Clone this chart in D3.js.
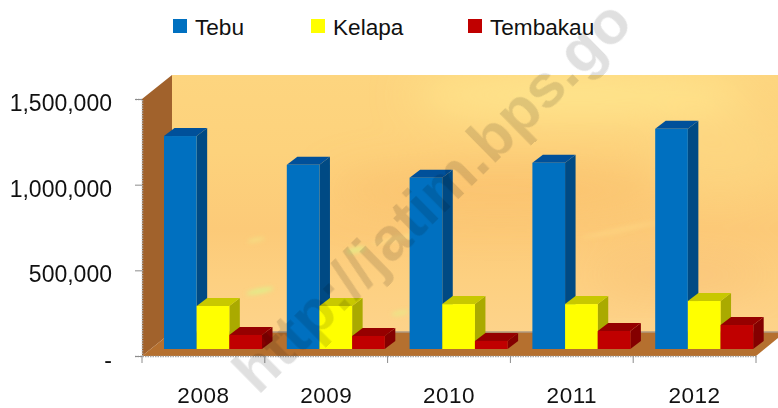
<!DOCTYPE html>
<html>
<head>
<meta charset="utf-8">
<script src="https://d3js.org/d3.v7.min.js"></script>
<style>
  html, body { margin: 0; padding: 0; background: #fff; overflow: hidden; }
  text { font-family: "Liberation Sans", Arial, sans-serif; fill: #111; }
</style>
</head>
<body>
<div id="chart"></div>
<script>
const years = ["2008", "2009", "2010", "2011", "2012"];
const seriesNames = ["Tebu", "Kelapa", "Tembakau"];
const tebu = [1243000, 1075000, 1000000, 1087000, 1285000];
const kelapa = [251000, 251000, 262000, 262000, 280000];
const tembakau = [82000, 76000, 47000, 105000, 140000];
const yTicks = [0, 500000, 1000000, 1500000];

const colors = {
    Tebu: { front: "#0070c0", top: "#00509a", side: "#004a84" },
    Kelapa: { front: "#ffff00", top: "#c8c800", side: "#aaaa00" },
    Tembakau: { front: "#c00000", top: "#960000", side: "#840000" }
};
const valuesBySeries = { Tebu: tebu, Kelapa: kelapa, Tembakau: tembakau };

const width = 778, height = 408;
const margin = { top: 99, left: 142, bottom: 52 };
const plotRight = 756;
const wallDx = 30, wallDy = -24;   // depth of the 3d box
const barDx = 10.5, barDy = -8;    // depth of each bar
const barLift = 7;                 // bars stand a little behind the front edge

const svg = d3.select("#chart").append("svg")
    .attr("width", width)
    .attr("height", height);

const x0 = d3.scaleBand().domain(years).range([margin.left, plotRight]);
const x1 = d3.scaleBand().domain(seriesNames).range([22, 120]);
const y = d3.scaleLinear().domain([0, 1500000]).range([height - margin.bottom, margin.top]);

const defs = svg.append("defs");
const wallGrad = defs.append("linearGradient").attr("id", "wall")
    .attr("x1", 0).attr("y1", 0).attr("x2", 0).attr("y2", 1);
[[0, "#fdd57f"], [0.3, "#fdd27c"], [0.6, "#fcca78"], [0.8, "#fdd081"], [1, "#fdd38a"]].forEach(s => {
    wallGrad.append("stop").attr("offset", s[0]).attr("stop-color", s[1]);
});
defs.append("filter").attr("id", "soft").append("feGaussianBlur").attr("stdDeviation", 20);
defs.append("filter").attr("id", "streak").append("feGaussianBlur").attr("stdDeviation", 2);
defs.append("clipPath").attr("id", "wallClip").append("rect")
    .attr("x", margin.left + wallDx).attr("y", margin.top + wallDy)
    .attr("width", width - margin.left - wallDx)
    .attr("height", y(0) - margin.top);

// back wall
const y0 = y(0), yTop = y(1500000);
const back = svg.append("g");
back.append("rect")
    .attr("x", margin.left + wallDx).attr("y", yTop + wallDy)
    .attr("width", width - margin.left - wallDx).attr("height", y0 - yTop)
    .attr("fill", "url(#wall)");

// the sunset-like texture on the wall
const haze = back.append("g").attr("clip-path", "url(#wallClip)").attr("filter", "url(#soft)");
[
    { cx: 580, cy: 95, rx: 170, ry: 22, c: "#ffe88f", o: 0.9 },
    { cx: 500, cy: 190, rx: 170, ry: 24, c: "#f9b968", o: 0.55 },
    { cx: 680, cy: 275, rx: 90, ry: 20, c: "#f9bb74", o: 0.45 },
    { cx: 720, cy: 150, rx: 70, ry: 40, c: "#fdd681", o: 0.8 }
].forEach(b => {
    haze.append("ellipse").attr("cx", b.cx).attr("cy", b.cy).attr("rx", b.rx).attr("ry", b.ry)
        .attr("fill", b.c).attr("opacity", b.o);
});
const streaks = back.append("g").attr("clip-path", "url(#wallClip)").attr("filter", "url(#streak)");
[
    { cx: 260, cy: 291, rx: 14, ry: 2.5, c: "#dff08a", o: 0.9 },
    { cx: 256, cy: 240, rx: 9, ry: 2, c: "#f0e888", o: 0.6 },
    { cx: 356, cy: 250, rx: 10, ry: 3, c: "#e2ee88", o: 0.8 },
    { cx: 400, cy: 313, rx: 9, ry: 2.5, c: "#e8e888", o: 0.8 },
    { cx: 400, cy: 238, rx: 30, ry: 2, c: "#fde088", o: 0.7 },
    { cx: 620, cy: 230, rx: 40, ry: 2.5, c: "#fddc88", o: 0.5 }
].forEach(b => {
    streaks.append("ellipse").attr("cx", b.cx).attr("cy", b.cy).attr("rx", b.rx).attr("ry", b.ry)
        .attr("fill", b.c).attr("opacity", b.o).attr("transform", `rotate(-12 ${b.cx} ${b.cy})`);
});

// side wall and floor
back.append("path")
    .attr("d", `M${margin.left},${yTop}L${margin.left + wallDx},${yTop + wallDy}L${margin.left + wallDx},${y0 + wallDy}L${margin.left},${y0}Z`)
    .attr("fill", "#a1622c");
back.append("path")
    .attr("d", `M${margin.left},${y0}L${margin.left + wallDx},${y0 + wallDy}L${width},${y0 + wallDy}L${width},${y0 - 18}L${plotRight},${y0}Z`)
    .attr("fill", "#b5702f");
back.append("line")
    .attr("x1", margin.left + wallDx).attr("x2", width)
    .attr("y1", y0 + wallDy).attr("y2", y0 + wallDy)
    .attr("stroke", "#b09a80").attr("stroke-width", 1.5);

// bars, left to right so each front hides the neighbour's side
const barsG = svg.append("g");
years.forEach((yr, i) => {
    const g = barsG.append("g").attr("transform", `translate(${x0(yr)},0)`);
    seriesNames.forEach(name => {
        const v = valuesBySeries[name][i];
        const left = x1(name), w = x1.bandwidth();
        const base = y(0) - barLift;
        const top = y(v) - barLift;
        const c = colors[name];
        g.append("path")
            .attr("d", `M${left + w},${top}L${left + w + barDx},${top + barDy}L${left + w + barDx},${base + barDy}L${left + w},${base}Z`)
            .attr("fill", c.side);
        g.append("path")
            .attr("d", `M${left},${top}L${left + barDx},${top + barDy}L${left + w + barDx},${top + barDy}L${left + w},${top}Z`)
            .attr("fill", c.top);
        g.append("rect")
            .attr("x", left).attr("y", top)
            .attr("width", w).attr("height", base - top)
            .attr("fill", c.front);
    });
});

// axes
const yAxis = d3.axisLeft(y)
    .tickValues(yTicks)
    .tickSize(7)
    .tickPadding(23)
    .tickFormat(d => d === 0 ? "-" : d3.format(",")(d));
const yAxisG = svg.append("g")
    .attr("transform", `translate(${margin.left},0)`)
    .call(yAxis);
yAxisG.selectAll(".tick text").attr("dy", "0.5em");

const xAxis = d3.axisBottom(x0).tickSize(0).tickPadding(31);
const xAxisG = svg.append("g")
    .attr("transform", `translate(0,${y0})`)
    .call(xAxis);

// ticks sit between the categories, not under them
xAxisG.selectAll("line.sep")
    .data(years.map(d => x0(d)).concat([plotRight]))
    .join("line")
    .attr("class", "sep")
    .attr("x1", d => d).attr("x2", d => d)
    .attr("y1", 0).attr("y2", 7)
    .attr("stroke", "#8c8c8c");

[yAxisG, xAxisG].forEach(a => {
    a.select(".domain").attr("stroke", "#a8a8a8").attr("stroke-width", 1.5).attr("stroke-dasharray", "1.5 1");
    a.selectAll(".tick line").attr("stroke", "#8c8c8c");
    a.selectAll(".tick text").attr("font-size", 23).style("font-family", '"Liberation Sans", Arial, sans-serif').attr("fill", "#111");
});
xAxisG.selectAll(".tick text").attr("font-size", 22.5).attr("letter-spacing", 0.5);

// legend
const legendX = [173, 311, 468];
const legend = svg.append("g");
seriesNames.forEach((name, i) => {
    legend.append("rect")
        .attr("x", legendX[i]).attr("y", 19)
        .attr("width", 14).attr("height", 14)
        .attr("fill", colors[name].front);
    legend.append("text")
        .attr("x", legendX[i] + 22).attr("y", 35)
        .attr("font-size", 22.6)
        .text(name);
});

// watermark on top of everything
svg.append("text")
    .attr("transform", "translate(258,396) rotate(-44.5)")
    .attr("font-size", 61)
    .attr("font-weight", "bold")
    .style("fill", "#000")
    .style("fill-opacity", 0.12)
    .text("http://jatim.bps.go");
</script>
</body>
</html>
